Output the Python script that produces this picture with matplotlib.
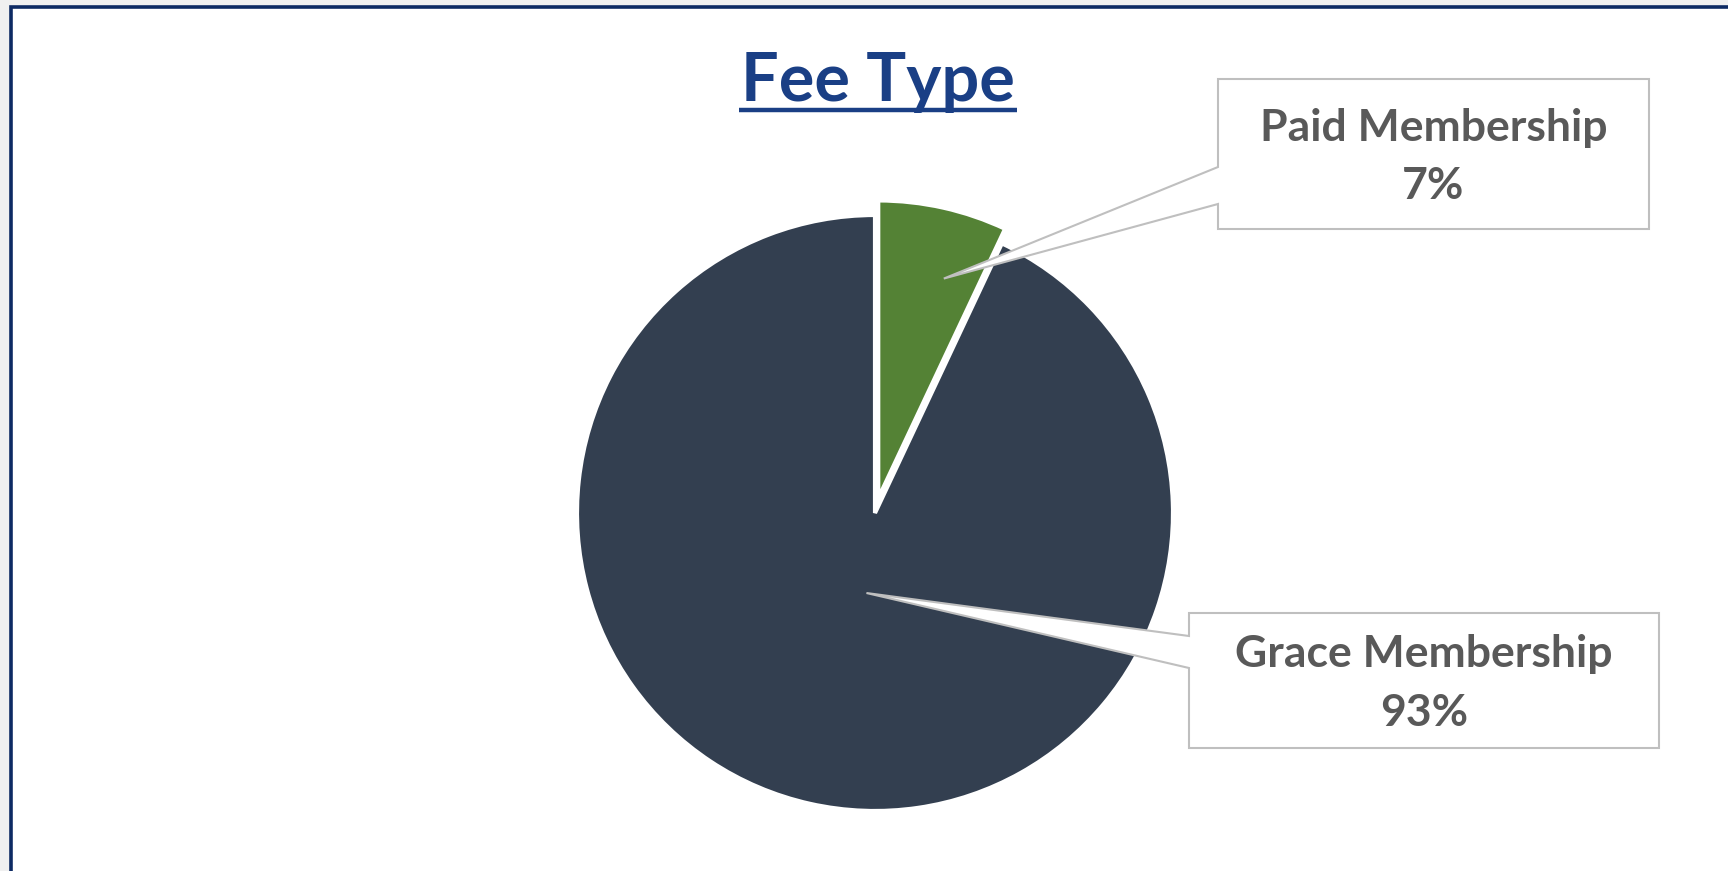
import numpy as np
from matplotlib import pyplot as plt
from matplotlib.patches import Polygon, Rectangle

# chart data
labels = ['Paid Membership', 'Grace Membership']
values = [7, 93]
colors = ['#548235', '#333f50']
title = 'Fee Type'

W, H = 1728, 871


def fy(y):
    # image rows (top down) -> axes units (bottom up)
    return H - y


def callout(ax, box, y1, y2, tip, text):
    # box outline with the pointer cut into its left edge
    L, T, R, B = box
    pts = [(L, fy(T)), (R, fy(T)), (R, fy(B)), (L, fy(B)),
           (L, fy(y2)), tip, (L, fy(y1))]
    ax.add_patch(Polygon(pts, closed=True, facecolor='white',
                         edgecolor='#bfbfbf', linewidth=1.5, zorder=5))
    ax.text((L + R) / 2, fy((T + B) / 2) - 3, text, ha='center', va='center',
            fontsize=32, fontweight='bold', color='#595959', family='Lato',
            linespacing=1.55, zorder=6)


def main():
    fig = plt.figure(figsize=(W / 100, H / 100), dpi=100, facecolor='#f0f0f0')
    ax = fig.add_axes([0, 0, 1, 1])

    # frame of the chart area
    ax.add_patch(Rectangle((10.5, -20), W, fy(7.5) + 20, facecolor='white',
                           edgecolor='#0d2a63', linewidth=2.6, zorder=0))

    cx, cy, r = 875, fy(513), 298
    explode = [0.05 * r, 0.0]   # pie() takes the offset in data units
    wedges, _ = ax.pie(values, colors=colors, startangle=90, counterclock=False,
                       explode=explode, radius=r, center=(cx, cy),
                       wedgeprops=dict(edgecolor='white', linewidth=3))
    ax.set_xlim(0, W)
    ax.set_ylim(0, H)
    ax.set_aspect('auto')
    ax.axis('off')

    # pointer tips inside each slice
    tips = []
    for w, frac, turn in zip(wedges, [0.77, 0.27], [-4, 6.5]):
        mid = np.deg2rad((w.theta1 + w.theta2) / 2 + turn)
        wx, wy = w.center
        tips.append((wx + frac * w.r * np.cos(mid), wy + frac * w.r * np.sin(mid)))

    pcts = ['%d%%' % v for v in values]
    callout(ax, (1218, 79, 1649, 229), 167, 204, tips[0],
            labels[0] + '\n' + pcts[0])
    callout(ax, (1189, 613, 1659, 748), 636, 668, tips[1],
            labels[1] + '\n' + pcts[1])

    t = ax.text(878, fy(101), title, ha='center', va='baseline', fontsize=48,
                fontweight='bold', color='#1a3f85', family='Lato')
    fig.canvas.draw()
    bb = t.get_window_extent()
    ax.plot([bb.x0 - 2, bb.x1 + 2], [fy(110), fy(110)], color='#1a3f85',
            linewidth=3.2, solid_capstyle='butt')

    fig.savefig('out.png', dpi=100, facecolor=fig.get_facecolor())


if __name__ == '__main__':
    main()
